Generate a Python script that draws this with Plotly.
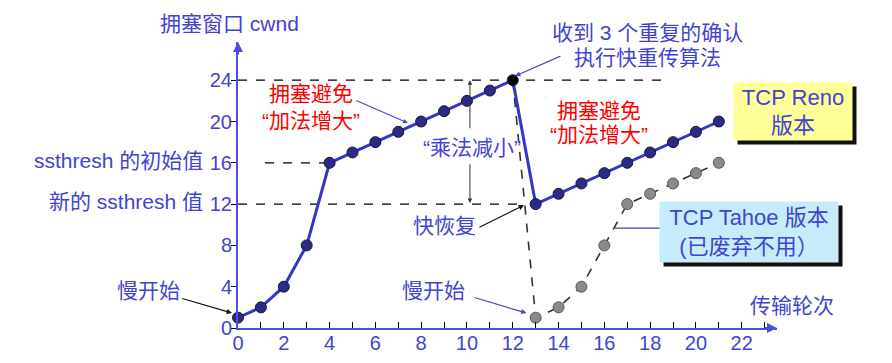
import plotly.graph_objects as go

# ---------------- data ----------------
reno_rounds = list(range(0, 22))
reno_cwnd = [1, 2, 4, 8, 16, 17, 18, 19, 20, 21, 22, 23, 24,
             12, 13, 14, 15, 16, 17, 18, 19, 20]
tahoe_rounds = [12, 13, 14, 15, 16, 17, 18, 19, 20, 21]
tahoe_cwnd = [24, 1, 2, 4, 8, 12, 13, 14, 15, 16]
x_ticks = list(range(0, 23, 2))
y_ticks = list(range(0, 25, 4))
ssthresh_init = 16
ssthresh_new = 12
cwnd_peak = 24
peak_round = 12

# ---------------- layout geometry ----------------
W, H = 892, 363
ML, MR, MT, MB = 230, 123, 34, 43
XMAX, YMAX = 23.54, 27.7
SX = (W - ML - MR) / XMAX
SY = (H - MT - MB) / YMAX

BLUE_TXT = "#4343cf"
LINE_BLUE = "#3535c8"
AXIS_BLUE = "#4d4de0"
FONT = "Liberation Sans, Arial, Noto Sans CJK SC, sans-serif"
TS = 21

fig = go.Figure()

# Tahoe dashed line + gray markers
fig.add_trace(go.Scatter(
    x=tahoe_rounds, y=tahoe_cwnd, mode="lines",
    line=dict(color="#333333", width=1.6, dash="dash"),
    cliponaxis=False, hoverinfo="skip", showlegend=False))
fig.add_trace(go.Scatter(
    x=tahoe_rounds[1:], y=tahoe_cwnd[1:], mode="markers",
    marker=dict(size=11, color="#8a8a8a", line=dict(color="#555555", width=1)),
    cliponaxis=False, hoverinfo="skip", showlegend=False))

# Reno line
marker_colors = ["#2b2b86"] * len(reno_rounds)
marker_colors[peak_round] = "#000000"
fig.add_trace(go.Scatter(
    x=reno_rounds, y=reno_cwnd, mode="lines+markers",
    line=dict(color=LINE_BLUE, width=3),
    marker=dict(size=11, color=marker_colors, line=dict(color="#15153f", width=1)),
    cliponaxis=False, hoverinfo="skip", showlegend=False))

shapes = []
def dline(x0, y0, x1, y1, color="#000000", width=1.3, dash="dash"):
    shapes.append(dict(type="line", xref="x", yref="y", x0=x0, y0=y0, x1=x1, y1=y1,
                       line=dict(color=color, width=width, dash=dash), layer="below"))

dline(0, cwnd_peak, 18.56, cwnd_peak)
dline(1.18, ssthresh_init, 4, ssthresh_init)
dline(0, ssthresh_new, 12.45, ssthresh_new)
# connector from Tahoe curve to its box
dline(16.46, 9.68, 18.95, 9.68, color="#4040c0", width=1.3, dash="solid")

annotations = []
def P(x, y):
    return x / XMAX, y / YMAX

def text(x, y, s, color=BLUE_TXT, size=TS, xanchor="center", **kw):
    px, py = P(x, y)
    annotations.append(dict(xref="paper", yref="paper", x=px, y=py, text=s,
                            showarrow=False, xanchor=xanchor, yanchor="middle",
                            font=dict(family=FONT, size=size, color=color), **kw))

def arrow(xh, yh, xt, yt, color="#000000", width=1.2, head=2, size=1.0):
    px, py = P(xh, yh)
    annotations.append(dict(xref="paper", yref="paper", x=px, y=py, text="",
                            showarrow=True, ax=(xt - xh) * SX, ay=-(yt - yh) * SY,
                            arrowcolor=color, arrowwidth=width, arrowhead=head,
                            arrowsize=size, standoff=0))

# axis arrowheads
annotations.append(dict(xref="paper", yref="paper", x=0, y=1, text="", showarrow=True,
                        ax=0, ay=14, arrowcolor=AXIS_BLUE, arrowwidth=2, arrowhead=2,
                        arrowsize=1))
annotations.append(dict(xref="paper", yref="paper", x=1, y=0, text="", showarrow=True,
                        ax=-14, ay=0, arrowcolor=AXIS_BLUE, arrowwidth=2, arrowhead=2,
                        arrowsize=1))

text(-0.35, 29.5, "拥塞窗口 cwnd")
text(17.9, 28.65, "收到 3 个重复的确认")
text(17.9, 26.2, "执行快重传算法")
arrow(12.1, 24.4, 14.15, 26.4, color="#4848c8", width=1.2, head=2, size=0.9)

text(3.19, 22.7, "拥塞避免", color="#ff0000")
text(3.19, 20.1, "“加法增大”", color="#ff0000")
arrow(7.42, 19.85, 5.1, 22.1, color="#4848c8", width=1.2, head=2, size=0.8)

text(-1.44, 16.2, "ssthresh 的初始值", xanchor="right")
text(-1.44, 12.3, "新的 ssthresh 值", xanchor="right")

text(-3.93, 3.68, "慢开始")
arrow(-0.26, 1.45, -2.5, 2.9, color="#111111", width=1.2, head=2, size=0.9)

text(10.2, 17.5, "“乘法减小”")
arrow(10.13, 24.0, 10.13, 19.2, color="#333333", width=1, head=2, size=0.9)
arrow(10.13, 12.1, 10.13, 16.0, color="#333333", width=1, head=2, size=0.9)

text(15.76, 21.1, "拥塞避免", color="#ff0000")
text(15.76, 18.7, "“加法增大”", color="#ff0000")

text(9.04, 9.97, "快恢复")
arrow(12.49, 11.9, 10.48, 9.68, color="#111111", width=1.2, head=2, size=0.9)

text(8.52, 3.68, "慢开始")
arrow(12.6, 1.45, 10.26, 3.0, color="#4848c8", width=1.2, head=2, size=0.9)

text(24.2, 2.2, "传输轮次")

# boxes with shadows
def box(x, y, w, h, s, bg):
    px, py = P(x, y)
    annotations.append(dict(xref="paper", yref="paper", x=px, y=py, text="",
                            showarrow=False, width=w, height=h, bgcolor="#111111",
                            xanchor="center", yanchor="middle",
                            borderpad=0, xshift=4, yshift=-4))
    annotations.append(dict(xref="paper", yref="paper", x=px, y=py, text=s,
                            showarrow=False, width=w, height=h, bgcolor=bg,
                            xanchor="center", yanchor="middle",
                            borderpad=0, align="center", valign="middle",
                            font=dict(family=FONT, size=22, color=BLUE_TXT)))

box(24.24, 20.96, 118, 57, "TCP Reno<br>版本", "#ffff99")
box(22.31, 9.29, 178, 60, "TCP Tahoe 版本<br>(已废弃不用）", "#c6ecfb")

fig.update_layout(
    width=W, height=H, autosize=False,
    margin=dict(l=ML, r=MR, t=MT, b=MB),
    paper_bgcolor="white", plot_bgcolor="white",
    shapes=shapes, annotations=annotations,
    showlegend=False,
    xaxis=dict(range=[0, XMAX], showgrid=False, zeroline=False, automargin=False,
               showline=True, linecolor=AXIS_BLUE, linewidth=2,
               tickvals=x_ticks, ticks="inside", ticklen=6, tickcolor="#000000",
               tickwidth=1,
               minor=dict(dtick=1, ticks="inside", ticklen=6, tickcolor="#000000",
                          tickwidth=1),
               tickfont=dict(family=FONT, size=20, color=BLUE_TXT),
               ticklabelstandoff=-4, fixedrange=True),
    yaxis=dict(range=[0, YMAX], showgrid=False, zeroline=False, automargin=False,
               showline=True, linecolor=AXIS_BLUE, linewidth=2,
               tickvals=y_ticks, ticks="outside", ticklen=5, tickcolor="#000000",
               tickwidth=1,
               tickfont=dict(family=FONT, size=20, color=BLUE_TXT),
               ticklabelstandoff=-5, fixedrange=True),
)

fig.write_html("out.html")
